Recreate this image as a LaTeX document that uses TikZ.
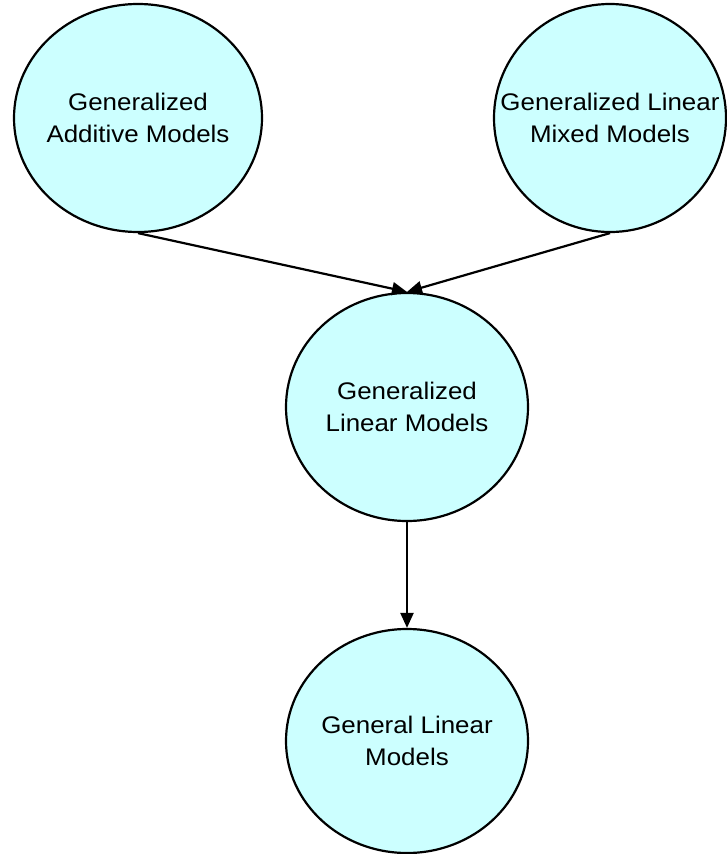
\documentclass[tikz,border=0pt]{standalone}
\usepackage{fontspec}
\setmainfont[FakeStretch=1.08]{Liberation Sans}
\usepackage{tikz}
\usetikzlibrary{positioning,arrows.meta,shapes.geometric}

\definecolor{modelfill}{HTML}{CCFFFF}

\begin{document}
\begin{tikzpicture}[
    x=1pt, y=-1pt,
    model/.style={ellipse, draw, fill=modelfill, line width=2.2pt, minimum height=228pt, inner sep=0pt,
      label={[align=center, font=\fontsize{24}{32}\selectfont]center:#1}},
    flow/.style={-{Triangle[length=15pt, width=13pt]}, line width=2.2pt},
]
  \useasboundingbox (0,0) rectangle (726,854);

  \node[model={Generalized\\Additive Models}, minimum width=248pt] (gam) at (138,118) {};
  \node[model={Generalized Linear\\Mixed Models}, minimum width=232pt] (glmm) at (610,118) {};
  \node[model={Generalized\\Linear Models}, minimum width=242pt] (glm) at (407,407) {};
  \node[model={General Linear\\Models}, minimum width=242pt, minimum height=224pt] (lm) at (407,741) {};

  \draw[flow] (gam.south) -- (glm.north);
  \draw[flow] (glmm.south) -- (glm.north);
  \draw[flow] (glm.south) -- (lm.north);
\end{tikzpicture}
\end{document}
